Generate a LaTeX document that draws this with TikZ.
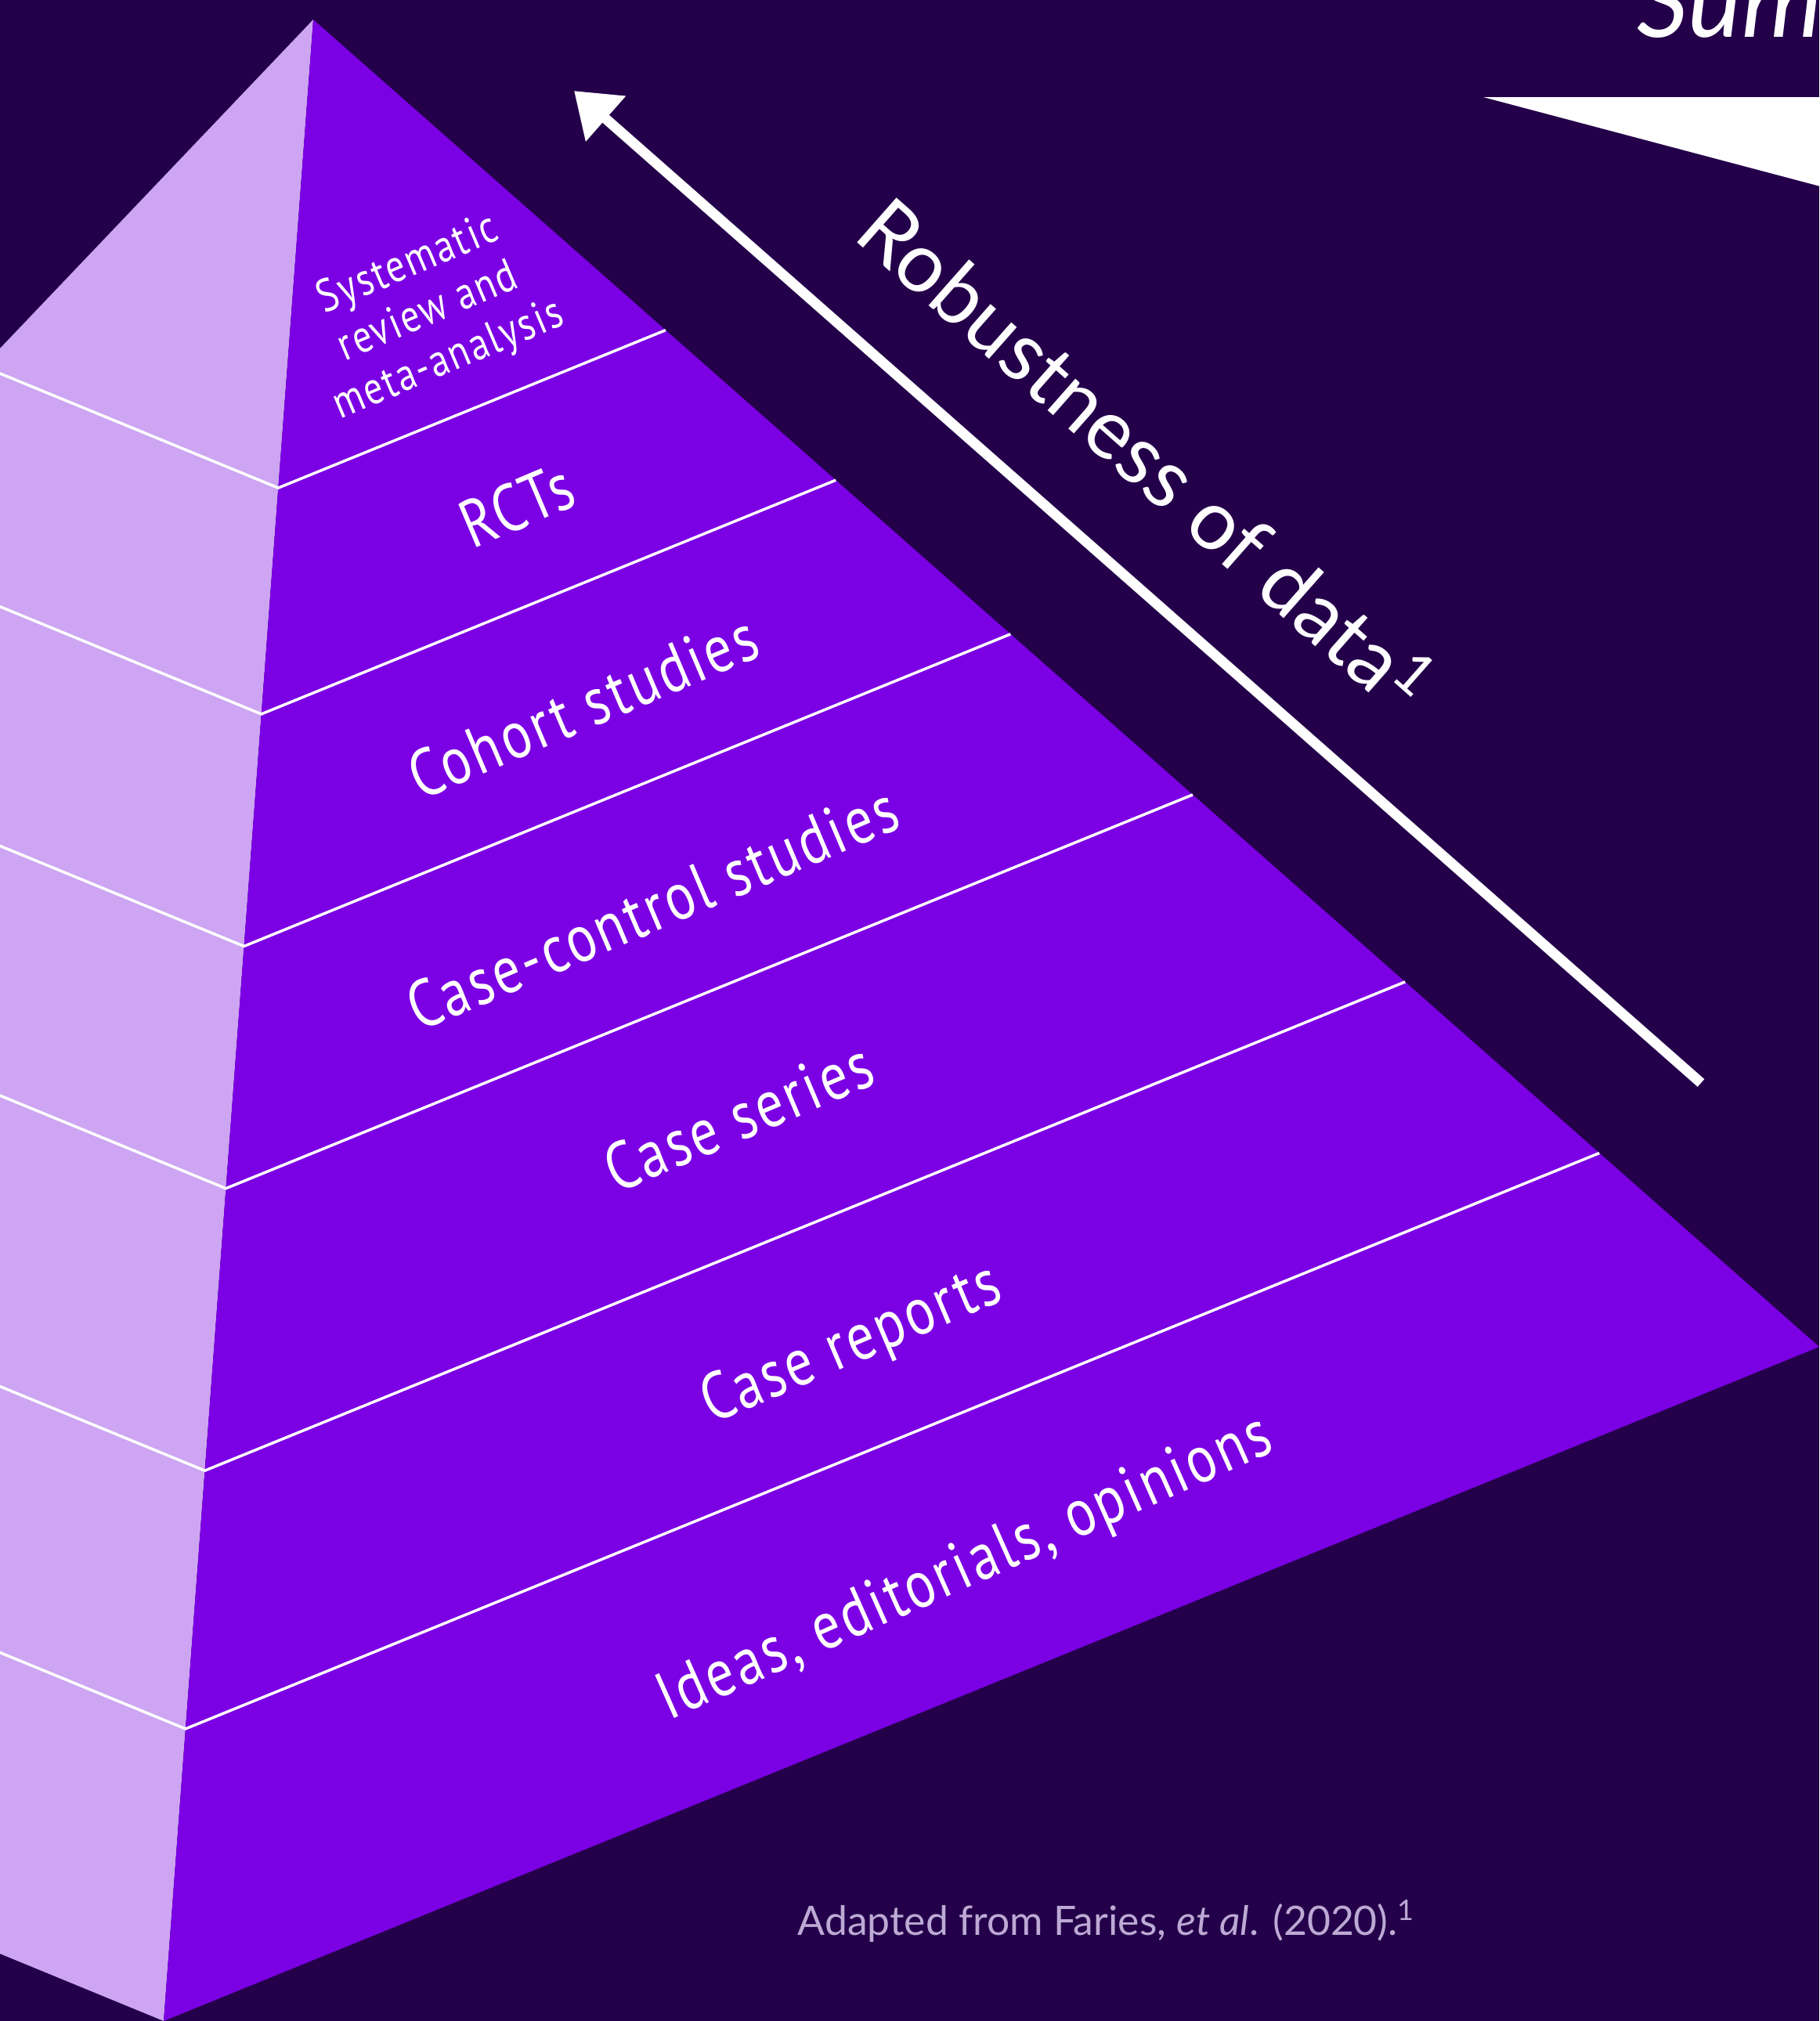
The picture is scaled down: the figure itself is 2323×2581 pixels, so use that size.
\documentclass[tikz,border=0pt]{standalone}
\usepackage{fontspec}
\setmainfont{Lato}
\newfontfamily\layerfont[LetterSpace=4,FakeStretch=0.82]{PT Sans}
\usetikzlibrary{calc,arrows.meta}

\definecolor{nightbg}{RGB}{36,0,74}
\definecolor{facefront}{RGB}{123,0,228}
\definecolor{faceside}{RGB}{205,165,242}
\definecolor{sourcegray}{RGB}{188,170,212}

\begin{document}
\begin{tikzpicture}[
  x=0.01cm, y=-0.01cm,
  layer/.style={white, line width=0.35mm},
  tier/.style={text=white, font=\layerfont\fontsize{24.4}{28}\selectfont,
               rotate=23, inner sep=0pt},
  tiersmall/.style={tier, font=\layerfont\fontsize{16.7}{18.8}\selectfont, align=center},
  robarrow/.style={white, line width=1.3mm, -{Triangle[length=5.4mm,width=7.4mm]}},
]
\useasboundingbox (0,0) rectangle (2323,2581);
\clip (0,0) rectangle (2323,2581);
\fill[nightbg] (0,0) rectangle (2323,2581);

% pyramid corners (back and right corners run off the page)
\coordinate (apex)  at (400,25);
\coordinate (back)  at (-1403,1918);
\coordinate (front) at (209,2581);
\coordinate (right) at (2323,1720);

\fill[faceside]  (apex) -- (back) -- (front) -- cycle;
\fill[facefront] (apex) -- (front) -- (right) -- cycle;

% tier boundaries, wrapping round both faces
\foreach \t in {0.234,0.347,0.463,0.584,0.725,0.854}
  \draw[layer] ($(apex)!\t!(back)$) -- ($(apex)!\t!(front)$) -- ($(apex)!\t!(right)$);

\node[tiersmall] (sysrev)  at (547,400)  {Systematic\\review and\\meta-analysis};
\node[tier]      (rcts)    at (660,645)  {RCTs};
\node[tier]      (cohort)  at (744,902)  {Cohort studies};
\node[tier]      (casectl) at (833,1159) {Case-control studies};
\node[tier]      (series)  at (943,1426) {Case series};
\node[tier]      (reports) at (1088,1719) {Case reports};
\node[tier, rotate=1] (ideas) at (1233,2005) {Ideas, editorials, opinions};

% robustness arrow
\coordinate (arrowtail) at (2172,1383);
\coordinate (arrowtip)  at (733,116);
\draw[robarrow] (arrowtail) -- (arrowtip);
\node[rotate=-41.4, anchor=base west, text=white, inner sep=0pt,
      font=\fontsize{30.2}{36}\selectfont] (robust) at (1087,303)
  {Robustness of data\textsuperscript{1}};

% heading corner
\node[anchor=base west, text=white, inner sep=0pt,
      font=\itshape\fontsize{37}{40}\selectfont] (sumtitle) at (2090,47) {Sum};
\fill[white] (1894,124) -- (2400,124) -- (2400,258) -- cycle;

\node[anchor=base west, text=sourcegray, inner sep=0pt,
      font=\fontsize{14.7}{17}\selectfont] (source) at (1018,2471)
  {Adapted from Faries, \textit{et al}. (2020).\textsuperscript{1}};
\end{tikzpicture}
\end{document}
